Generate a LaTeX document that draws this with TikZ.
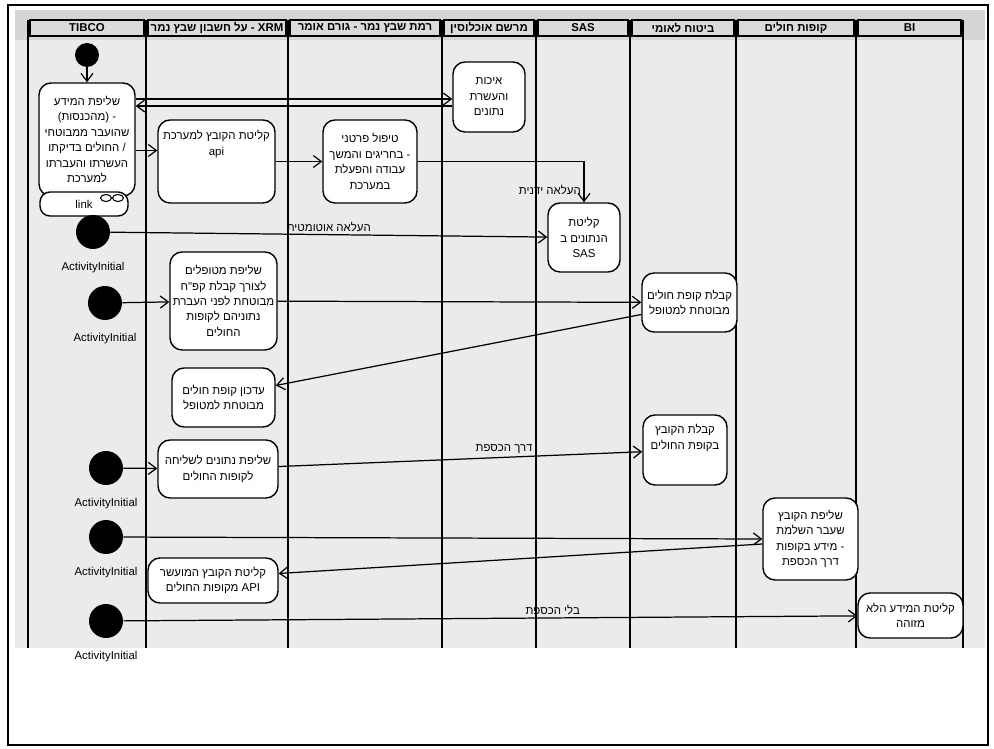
\documentclass[tikz,border=0pt]{standalone}
\usepackage{fontspec}
\setmainfont{Liberation Sans}
\newfontfamily\hebfont[Script=Hebrew]{Liberation Sans}
\TeXXeTstate=1
\usetikzlibrary{arrows.meta,positioning,calc}
\newcommand\hb[1]{{\hebfont\beginR #1\endR}}
\newcommand\boxfont{\fontsize{6.5}{8.8}\selectfont}
\newcommand\hdfont{\fontsize{6.5}{8}\selectfont\bfseries}
\newcommand\labfont{\fontsize{6.5}{8}\selectfont}
\tikzset{
  lane/.style={draw=black,line width=0.8pt},
  lanehd/.style={draw=black,fill=black!14,line width=0.6pt,minimum height=3.2mm,
                 inner sep=0pt,font=\hdfont},
  act/.style={draw=black,fill=white,rounded corners=2.4mm,line width=0.8pt,
              align=center,inner sep=1pt,font=\boxfont},
  txt/.style={align=center,inner sep=0pt,font=\boxfont},
  ini/.style={circle,fill=black,inner sep=0pt,minimum size=6.8mm},
  inilab/.style={font=\labfont,inner sep=1pt},
  ar/.style={-{Straight Barb[length=1.6mm,width=2.4mm]},line width=0.7pt},
  lab/.style={font=\labfont,inner sep=1.5pt},
}
\begin{document}
\begin{tikzpicture}[x=0.02cm,y=-0.02cm]
  \useasboundingbox (0,0) rectangle (994,749);
  % background and frame
  \fill[black!8] (15,10) rectangle (985,648);
  \fill[black!16] (15,10) rectangle (985,40);
  \draw[line width=0.8pt] (8,5) rectangle (988,745);
  \draw[line width=1.6pt] (8,5) -- (988,5);
  % lanes
  \foreach \x in {28,146,288,442,536,630,736,856,963}
    \draw[lane] (\x,20) -- (\x,648);
  \node[lanehd,minimum width=2.28cm] (hdtibco) at (87,28) {TIBCO};
  \node[lanehd,minimum width=2.76cm] (hdxrm) at (217,28) {\hb{על חשבון שבץ נמר} - XRM};
  \node[lanehd,minimum width=3.0cm] (hdlevel) at (365,28) {\hb{רמת שבץ נמר - גורם אומר}};
  \node[lanehd,minimum width=1.8cm] (hdreg) at (489,28) {\hb{מרשם אוכלוסין}};
  \node[lanehd,minimum width=1.8cm] (hdsas) at (583,28) {SAS};
  \node[lanehd,minimum width=2.04cm] (hdnii) at (683,28) {\hb{ביטוח לאומי}};
  \node[lanehd,minimum width=2.32cm] (hdhmo) at (796,28) {\hb{קופות חולים}};
  \node[lanehd,minimum width=2.06cm] (hdbi) at (909.5,28) {BI};

  % activities
  \node[act,minimum width=1.92cm,minimum height=2.26cm] (tibco) at (87,139.5)
    {\hb{שליפת המידע}\\\hb{- (מהכנסות)}\\\hb{שהועבר ממבוטחי}\\\hb{/ החולים בדיקתו}\\\hb{העשרתו והעברתו}\\\hb{למערכת}};
  \node[act,rounded corners=2mm,minimum width=1.76cm,minimum height=0.48cm] (link) at (84,204) {\raisebox{-2pt}{link}};
  \draw[line width=0.6pt] (106,198) ellipse [x radius=1.1mm,y radius=0.7mm]
                          (118,198) ellipse [x radius=1.1mm,y radius=0.7mm];
  \node[act,minimum width=2.34cm,minimum height=1.66cm] (fileapi) at (216.5,161.5) {};
  \node[txt,below=2.2mm of fileapi.north] (fileapitxt) {\hb{קליטת הקובץ למערכת}\\api};
  \node[act,minimum width=1.88cm,minimum height=1.66cm] (manual) at (370,161.5)
    {\hb{טיפול פרטני}\\\hb{- בחריגים והמשך}\\\hb{עבודה והפעלת}\\\hb{במערכת}};
  \node[act,minimum width=1.44cm,minimum height=1.4cm] (quality) at (489,97)
    {\hb{איכות}\\\hb{והעשרת}\\\hb{נתונים}};
  \node[act,minimum width=1.44cm,minimum height=1.38cm] (sas) at (584,237.5)
    {\hb{קליטת}\\\hb{הנתונים ב}\\SAS};
  \node[act,minimum width=2.14cm,minimum height=1.96cm] (patients) at (223.5,301)
    {\hb{שליפת מטופלים}\\\hb{לצורך קבלת קפ"ח}\\\hb{מבוטחת לפני העברת}\\\hb{נתוניהם לקופות}\\\hb{החולים}};
  \node[act,minimum width=1.9cm,minimum height=1.18cm] (hmo) at (689.5,302.5)
    {\hb{קבלת קופת חולים}\\\hb{מבוטחת למטופל}};
  \node[act,minimum width=2.06cm,minimum height=1.18cm] (update) at (223.5,397.5)
    {\hb{עדכון קופת חולים}\\\hb{מבוטחת למטופל}};
  \node[act,minimum width=2.4cm,minimum height=1.16cm] (extract) at (218,469)
    {\hb{שליפת נתונים לשליחה}\\\hb{לקופות החולים}};
  \node[act,minimum width=1.68cm,minimum height=1.4cm] (received) at (685,450) {};
  \node[txt,below=2mm of received.north] (receivedtxt) {\hb{קבלת הקובץ}\\\hb{בקופת החולים}};
  \node[act,minimum width=1.9cm,minimum height=1.64cm] (vault) at (810.5,539)
    {\hb{שליפת הקובץ}\\\hb{שעבר השלמת}\\\hb{- מידע בקופות}\\\hb{דרך הכספת}};
  \node[act,minimum width=2.6cm,minimum height=0.9cm] (enriched) at (213,580.5)
    {\hb{קליטת הקובץ המועשר}\\\hb{מקופות החולים} API};
  \node[act,minimum width=2.1cm,minimum height=0.9cm] (unident) at (910.5,615.5)
    {\hb{קליטת המידע הלא}\\\hb{מזוהה}};

  % initial nodes
  \node[ini,minimum size=4.8mm] (init1) at (87,55) {};
  \node[ini] (init2) at (93,232) {};
  \node[ini] (init3) at (105,303) {};
  \node[ini] (init4) at (106,468) {};
  \node[ini] (init5) at (106,537) {};
  \node[ini] (init6) at (106,621) {};
  \node[inilab,below=2.2mm of init2] (init2lab) {ActivityInitial};
  \node[inilab,below=2.2mm of init3] (init3lab) {ActivityInitial};
  \node[inilab,below=2.2mm of init4] (init4lab) {ActivityInitial};
  \node[inilab,below=2.2mm of init5] (init5lab) {ActivityInitial};
  \node[inilab,below=2.2mm of init6] (init6lab) {ActivityInitial};

  % flows
  \draw[ar] (init1) -- (tibco);
  \draw[ar] ($(tibco.east|-quality.west)+(0,2)$) -- ($(quality.west)+(0,2)$);
  \draw[ar] ($(quality.west)+(0,9)$) -- ($(tibco.east|-quality.west)+(0,9)$);
  \draw[ar] ($(tibco.east)+(0,11)$) coordinate (t1) -- (t1 -| fileapi.west);
  \draw[ar] (fileapi) -- (manual);
  \draw[ar] (manual.east) -| node[lab,left,pos=0.85]{\hb{העלאה ידנית}} (sas.north);
  \draw[ar] (init2) -- node[lab,above]{\hb{העלאה אוטומטית}} (sas);
  \draw[ar] (init3) -- (patients);
  \draw[ar] (patients) -- (hmo);
  \draw[ar] ($(hmo.west)+(0,12)$) -- ($(update.east)+(0,-12)$);
  \draw[ar] (init4) -- (extract);
  \draw[ar] (extract) -- node[lab,above,pos=0.62]{\hb{דרך הכספת}} (received);
  \draw[ar] (init5) -- (vault.west);
  \draw[ar] ($(vault.west)+(0,5)$) -- ($(enriched.east)+(0,-7)$);
  \draw[ar] (init6) -- node[lab,above,pos=0.585]{\hb{בלי הכספת}} (unident);
\end{tikzpicture}
\end{document}
